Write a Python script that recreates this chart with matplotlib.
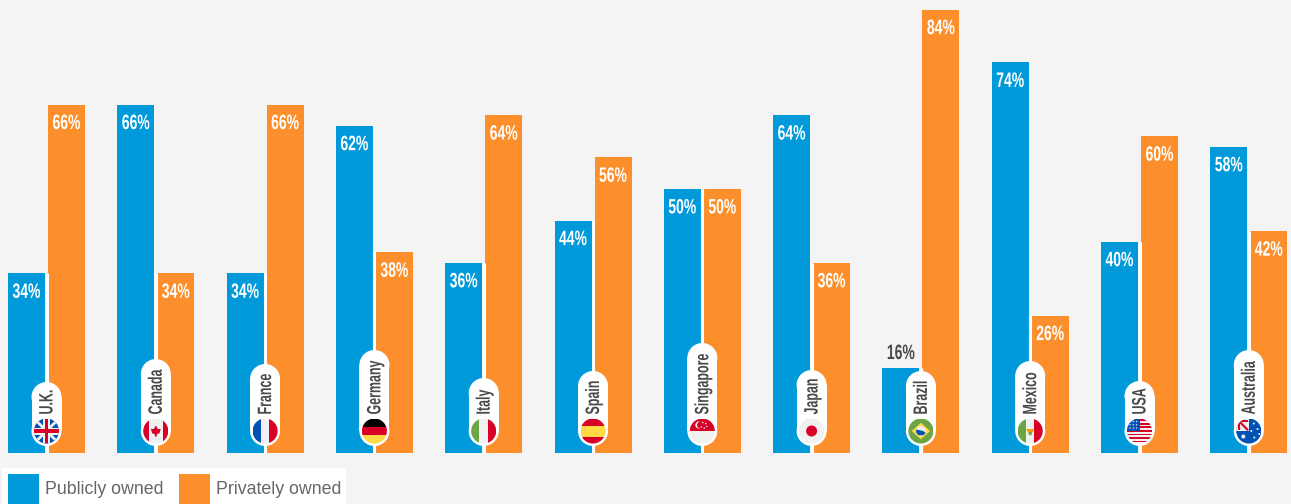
import matplotlib
matplotlib.use('Agg')
import matplotlib.pyplot as plt
from matplotlib.patches import Rectangle, Circle, Polygon
from matplotlib.patheffects import AbstractPathEffect
from matplotlib.transforms import Affine2D

# data
countries = ['U.K.', 'Canada', 'France', 'Germany', 'Italy', 'Spain', 'Singapore',
             'Japan', 'Brazil', 'Mexico', 'USA', 'Australia']
publicly = [34, 66, 34, 62, 36, 44, 50, 64, 16, 74, 40, 58]
privately = [66, 34, 66, 38, 64, 56, 50, 36, 84, 26, 60, 42]
legend_names = ['Publicly owned', 'Privately owned']

BLUE = '#0099da'
ORANGE = '#fc8f2c'
BG = '#f4f4f4'
DARK = '#4a4a4a'
RED = '#d80027'
BOLD = 'Liberation Sans'

W, H = 1291, 504
BASE = 452.7     # pixel row of the zero line
PX = 5.275       # pixels per percent

fig = plt.figure(figsize=(W / 100, H / 100), dpi=100, facecolor=BG)

# bars, y axis in percent
ax = fig.add_axes([0, 0, 1, 1], facecolor='none')
ax.set_xlim(0, W)
ax.set_ylim(-(H - BASE) / PX, BASE / PX)
ax.axis('off')

# overlay in pixels for pills, flags and legend
ov = fig.add_axes([0, 0, 1, 1], facecolor='none')
ov.set_xlim(0, W)
ov.set_ylim(H, 0)
ov.axis('off')


class Squeeze(AbstractPathEffect):
    # no condensed font installed, so squeeze the glyphs along the reading direction
    def __init__(self, anchor, sx=1.0, sy=1.0):
        super().__init__()
        self.anchor = anchor
        self.sx = sx
        self.sy = sy

    def draw_path(self, renderer, gc, tpath, affine, rgbFace=None):
        a, b = self.anchor
        squeeze = Affine2D().translate(-a, -b).scale(self.sx, self.sy).translate(a, b)
        renderer.draw_path(gc, tpath, affine + squeeze, rgbFace)


step = 109.3
bar_w = 37
lefts = [8 + step * i for i in range(len(countries))]
rights = [x + 40 for x in lefts]

ax.bar(lefts, publicly, width=bar_w, align='edge', color=BLUE)
ax.bar(rights, privately, width=bar_w, align='edge', color=ORANGE)
# white line between the two bars, up to the shorter one
ax.vlines([x + 38.5 for x in lefts], 0, [min(a, b) for a, b in zip(publicly, privately)],
          color='white', lw=2.2, capstyle='butt')


def value_label(x, v):
    y = v + 2.8 if v < 20 else v - 3.6
    col = DARK if v < 20 else 'white'
    anchor = ax.transData.transform((x, y))
    ax.text(x, y, f'{v}%', color=col, family=BOLD, weight='bold', fontsize=15,
            ha='center', va='center', path_effects=[Squeeze(anchor, sx=0.67)])


for i in range(len(countries)):
    value_label(lefts[i] + bar_w / 2, publicly[i])
    value_label(rights[i] + bar_w / 2, privately[i])


def flag(name, cx, cy, r=12.5):
    clip = Circle((cx, cy), r, transform=ov.transData)
    x0, y0, d = cx - r, cy - r, 2 * r
    items = []

    def rect(fx, fy, fw, fh, c):
        items.append(Rectangle((x0 + fx * d, y0 + fy * d), fw * d, fh * d, color=c, lw=0))

    def poly(pts, c):
        items.append(Polygon([(x0 + a * d, y0 + b * d) for a, b in pts], color=c, lw=0))

    def dot(fx, fy, fr, c):
        items.append(Circle((x0 + fx * d, y0 + fy * d), fr * d, color=c, lw=0))

    rect(0, 0, 1, 1, '#f0f0f0')
    if name == 'U.K.':
        rect(0, 0, 1, 1, '#0052b4')
        for a in ([(0, 0.08), (0.08, 0), (1, 0.92), (0.92, 1)], [(1, 0.08), (0.92, 0), (0, 0.92), (0.08, 1)]):
            poly(a, '#f0f0f0')
        rect(0.36, 0, 0.28, 1, '#f0f0f0')
        rect(0, 0.36, 1, 0.28, '#f0f0f0')
        rect(0.43, 0, 0.14, 1, RED)
        rect(0, 0.43, 1, 0.14, RED)
    elif name == 'Canada':
        rect(0, 0, 0.22, 1, RED)
        rect(0.78, 0, 0.22, 1, RED)
        poly([(0.5, 0.28), (0.58, 0.42), (0.7, 0.42), (0.64, 0.6), (0.54, 0.62), (0.54, 0.72),
              (0.46, 0.72), (0.46, 0.62), (0.36, 0.6), (0.3, 0.42), (0.42, 0.42)], RED)
    elif name == 'France':
        rect(0, 0, 0.33, 1, '#0052b4')
        rect(0.67, 0, 0.33, 1, RED)
    elif name == 'Germany':
        rect(0, 0, 1, 0.33, '#000000')
        rect(0, 0.33, 1, 0.34, RED)
        rect(0, 0.67, 1, 0.33, '#ffda44')
    elif name == 'Italy':
        rect(0, 0, 0.33, 1, '#6da544')
        rect(0.67, 0, 0.33, 1, RED)
    elif name == 'Spain':
        rect(0, 0, 1, 0.28, RED)
        rect(0, 0.28, 1, 0.44, '#ffda44')
        rect(0, 0.72, 1, 0.28, RED)
    elif name == 'Singapore':
        rect(0, 0, 1, 0.5, RED)
        dot(0.36, 0.26, 0.14, '#f0f0f0')
        dot(0.42, 0.26, 0.13, RED)
        for p in [(0.52, 0.16), (0.64, 0.2), (0.68, 0.32), (0.46, 0.34), (0.58, 0.38)]:
            dot(p[0], p[1], 0.03, '#f0f0f0')
    elif name == 'Japan':
        dot(0.5, 0.5, 0.22, RED)
    elif name == 'Brazil':
        rect(0, 0, 1, 1, '#6da544')
        poly([(0.5, 0.17), (0.87, 0.5), (0.5, 0.83), (0.13, 0.5)], '#ffda44')
        dot(0.5, 0.5, 0.2, '#f0f0f0')
        poly([(0.31, 0.44), (0.6, 0.5), (0.69, 0.58), (0.6, 0.67), (0.4, 0.67), (0.31, 0.56)], '#0052b4')
    elif name == 'Mexico':
        rect(0, 0, 0.33, 1, '#6da544')
        rect(0.67, 0, 0.33, 1, RED)
        poly([(0.34, 0.42), (0.66, 0.42), (0.58, 0.58), (0.42, 0.58)], '#ff9811')
        dot(0.5, 0.6, 0.07, '#6da544')
    elif name == 'USA':
        for k in range(7):
            rect(0, k / 7 + 0.03, 1, 0.5 / 7, RED)
        rect(0, 0, 0.5, 0.5, '#0052b4')
        for fx in (0.12, 0.25, 0.38):
            for fy in (0.12, 0.25, 0.38):
                dot(fx, fy, 0.028, '#f0f0f0')
    elif name == 'Australia':
        rect(0, 0, 1, 1, '#0052b4')
        rect(0, 0, 0.5, 0.5, '#f0f0f0')
        rect(0.05, 0.05, 0.4, 0.08, RED)
        rect(0.05, 0.05, 0.08, 0.4, RED)
        poly([(0.12, 0.18), (0.18, 0.12), (0.5, 0.44), (0.44, 0.5)], RED)
        for p in [(0.7, 0.2), (0.85, 0.42), (0.6, 0.5), (0.72, 0.76), (0.92, 0.62)]:
            dot(p[0], p[1], 0.04, '#f0f0f0')
        dot(0.28, 0.72, 0.08, '#f0f0f0')

    for it in items:
        ov.add_patch(it)
        it.set_clip_path(clip)


# pill tops differ with the length of the country name
pill_tops = [382, 359, 364, 350, 378, 371, 343, 370, 371, 361, 381, 350]
pill_r = 15
for i, name in enumerate(countries):
    cx = lefts[i] + 38.5
    top = pill_tops[i]
    ov.add_patch(Rectangle((cx - pill_r, top + pill_r), 2 * pill_r, 446 - top - 2 * pill_r, fc='white', ec='none'))
    ov.add_patch(Circle((cx, top + pill_r), pill_r, fc='white', ec='none'))
    ov.add_patch(Circle((cx, 446 - pill_r), pill_r, fc='white', ec='none'))
    flag(name, cx, 431)
    anchor = ov.transData.transform((cx + 1.5, 414.5))
    ov.text(cx + 1.5, 414.5, name, rotation=90, ha='center', va='bottom', color=DARK,
            family=BOLD, weight='bold', fontsize=14, path_effects=[Squeeze(anchor, sy=0.64)])

# legend
ov.add_patch(Rectangle((2, 468), 344, 36, fc='white', ec='none'))
ov.add_patch(Rectangle((8, 474), 31, 30, fc=BLUE, ec='none'))
ov.add_patch(Rectangle((179, 474), 31, 30, fc=ORANGE, ec='none'))
ov.text(45, 490, legend_names[0], color='#666666', family='Liberation Sans', fontsize=12.8, va='center')
ov.text(216, 490, legend_names[1], color='#666666', family='Liberation Sans', fontsize=12.8, va='center')

fig.savefig('out.png', dpi=100, facecolor=BG)
